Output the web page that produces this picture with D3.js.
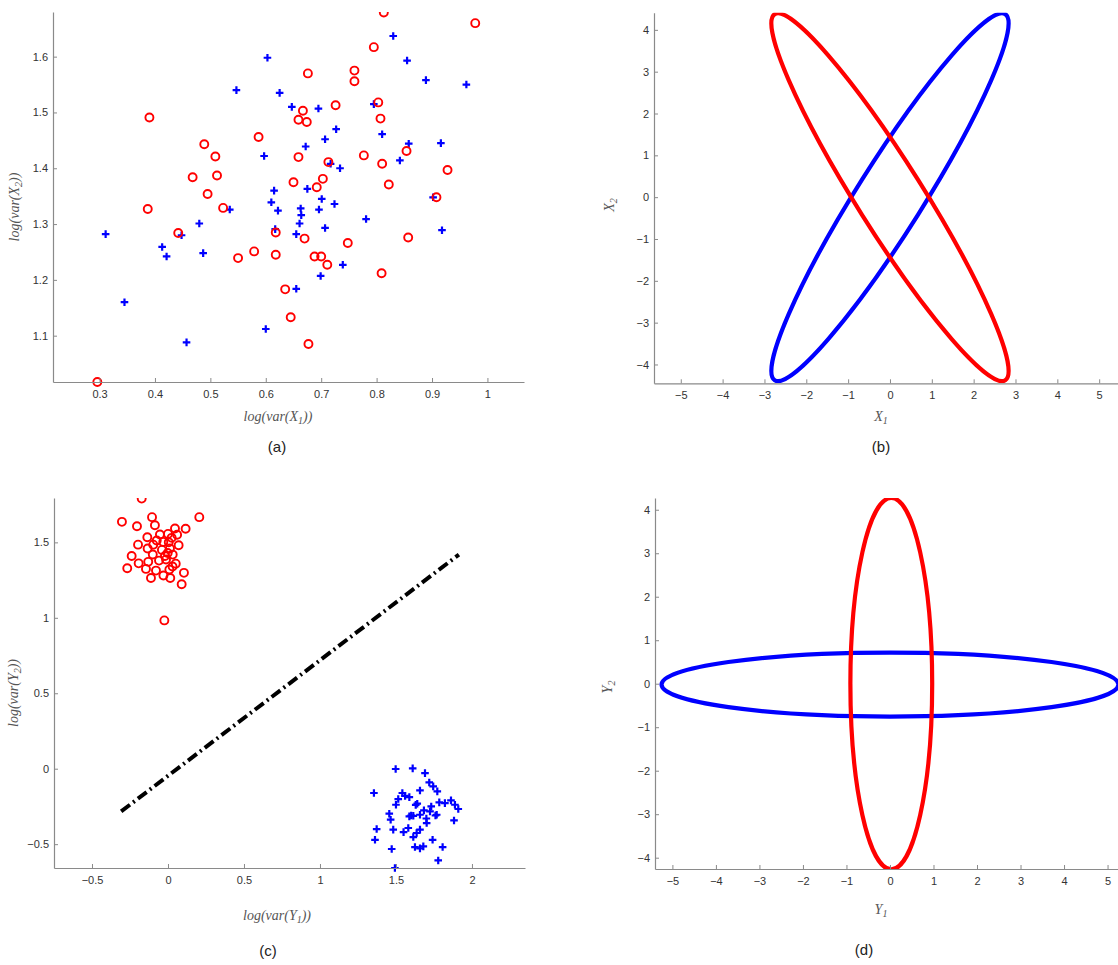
<!DOCTYPE html>
<html>
<head>
<meta charset="utf-8">
<script src="https://cdn.jsdelivr.net/npm/d3@7"></script>
<style>
  body { margin: 0; background: #fff; }
  svg { display: block; }
  .tick text { font-family: "Liberation Sans", Arial, sans-serif; font-size: 11px; fill: #333; }
</style>
</head>
<body>
<svg id="fig" width="1118" height="965"></svg>
<script>
// --- Data: panel (a) log-variances of X ---
const aRed = [[0.813,1.679],[0.978,1.660],[0.795,1.617],[0.676,1.570],[0.760,1.575],[0.760,1.556],[0.390,1.491],[0.667,1.503],[0.659,1.487],[0.674,1.483],[0.726,1.513],[0.803,1.518],[0.807,1.489],[0.587,1.456],[0.489,1.443],[0.509,1.421],[0.659,1.420],[0.468,1.384],[0.512,1.387],[0.777,1.423],[0.713,1.411],[0.810,1.408],[0.854,1.431],[0.928,1.397],[0.495,1.354],[0.650,1.375],[0.703,1.381],[0.692,1.366],[0.822,1.371],[0.387,1.327],[0.523,1.329],[0.908,1.348],[0.442,1.284],[0.618,1.285],[0.670,1.274],[0.857,1.276],[0.748,1.266],[0.550,1.239],[0.579,1.251],[0.618,1.245],[0.688,1.242],[0.700,1.242],[0.711,1.227],[0.809,1.212],[0.635,1.183],[0.645,1.133],[0.677,1.085],[0.296,1.017]];
const aBlue = [[0.830,1.637],[0.603,1.598],[0.855,1.593],[0.547,1.540],[0.625,1.535],[0.889,1.558],[0.962,1.550],[0.647,1.510],[0.695,1.507],[0.795,1.515],[0.727,1.470],[0.810,1.461],[0.707,1.452],[0.672,1.439],[0.858,1.444],[0.916,1.445],[0.597,1.422],[0.842,1.414],[0.734,1.400],[0.717,1.408],[0.615,1.360],[0.675,1.363],[0.610,1.339],[0.701,1.345],[0.622,1.324],[0.663,1.328],[0.664,1.316],[0.535,1.326],[0.696,1.326],[0.724,1.336],[0.480,1.301],[0.661,1.301],[0.781,1.309],[0.311,1.282],[0.617,1.291],[0.655,1.282],[0.707,1.293],[0.918,1.289],[0.448,1.280],[0.413,1.259],[0.421,1.242],[0.487,1.248],[0.739,1.227],[0.699,1.207],[0.345,1.160],[0.655,1.184],[0.600,1.112],[0.457,1.088],[0.902,1.348]];
const aXTicks = [0.3,0.4,0.5,0.6,0.7,0.8,0.9,1];
const aYTicks = [1.1,1.2,1.3,1.4,1.5,1.6];

// --- Data: panel (b) covariance ellipses in X space (semi-axes, angle in degrees) ---
const bEllipses = [
  { color: "#0000ff", cx: 0, cy: 0, a: 5.17, b: 0.79, angle: 57.8 },
  { color: "#ff0000", cx: 0, cy: 0, a: 5.17, b: 0.79, angle: 122.2 }
];
const bXTicks = [-5,-4,-3,-2,-1,0,1,2,3,4,5];
const bYTicks = [-4,-3,-2,-1,0,1,2,3,4];

// --- Data: panel (c) log-variances of Y ---
const cRed = [[-0.173,1.790],[-0.303,1.636],[-0.105,1.667],[0.206,1.667],[-0.204,1.607],[-0.086,1.613],[0.046,1.592],[0.116,1.590],[0.000,1.556],[-0.053,1.552],[-0.136,1.534],[0.024,1.530],[-0.074,1.512],[-0.097,1.485],[-0.197,1.485],[-0.031,1.503],[0.070,1.481],[-0.134,1.459],[0.013,1.459],[-0.239,1.410],[-0.002,1.430],[0.031,1.419],[-0.193,1.361],[-0.130,1.371],[-0.059,1.379],[-0.013,1.386],[0.051,1.359],[-0.268,1.328],[-0.145,1.324],[-0.079,1.313],[0.009,1.320],[0.105,1.298],[-0.112,1.264],[0.015,1.264],[0.090,1.222],[-0.024,0.983],[-0.040,1.450],[0.005,1.500],[-0.020,1.410],[0.030,1.340],[-0.100,1.420],[0.060,1.550],[-0.030,1.280]];
const cBlue = [[1.498,-0.002],[1.610,0.002],[1.691,-0.029],[1.719,-0.091],[1.745,-0.117],[1.772,-0.150],[1.658,-0.144],[1.355,-0.161],[1.542,-0.161],[1.588,-0.188],[1.515,-0.201],[1.500,-0.239],[1.640,-0.232],[1.785,-0.223],[1.822,-0.228],[1.862,-0.210],[1.888,-0.239],[1.910,-0.267],[1.732,-0.250],[1.684,-0.276],[1.724,-0.283],[1.768,-0.305],[1.456,-0.298],[1.588,-0.316],[1.614,-0.312],[1.658,-0.305],[1.465,-0.338],[1.882,-0.343],[1.702,-0.360],[1.373,-0.400],[1.482,-0.404],[1.581,-0.393],[1.658,-0.404],[1.636,-0.426],[1.614,-0.453],[1.362,-0.471],[1.741,-0.471],[1.807,-0.519],[1.625,-0.519],[1.658,-0.528],[1.680,-0.515],[1.472,-0.532],[1.778,-0.608],[1.493,-0.658],[1.600,-0.310],[1.700,-0.330],[1.560,-0.180],[1.630,-0.240],[1.760,-0.310],[1.550,-0.420]];
const cBoundary = [[-0.308,-0.283],[1.914,1.419]];
const cXTicks = [-0.5,0,0.5,1,1.5,2];
const cYTicks = [-0.5,0,0.5,1,1.5];

// --- Data: panel (d) ellipses in Y space ---
const dEllipses = [
  { color: "#0000ff", cx: 0, cy: -0.02, a: 5.25, b: 0.735, angle: 0 },
  { color: "#ff0000", cx: 0.03, cy: 0, a: 0.94, b: 4.27, angle: 0 }
];
const dXTicks = [-5,-4,-3,-2,-1,0,1,2,3,4,5];
const dYTicks = [-4,-3,-2,-1,0,1,2,3,4];

// --- Setup ---
const svg = d3.select("#fig");
const defs = svg.append("defs");
const fmt = d3.format("~g");
const axisColor = "#8a8a8a";
const labelFont = "'Liberation Serif', 'Times New Roman', serif";

function makePanel(id, p) {
  const x = d3.scaleLinear().domain(p.xd).range([p.left, p.right]);
  const y = d3.scaleLinear().domain(p.yd).range([p.bottom, p.top]);
  const g = svg.append("g").attr("class", "panel-" + id);

  // clip: exact box for curves, open below/sides for markers (top is cut)
  defs.append("clipPath").attr("id", "box-" + id).append("rect")
    .attr("x", p.left).attr("y", p.top)
    .attr("width", p.right - p.left).attr("height", p.bottom - p.top);
  defs.append("clipPath").attr("id", "top-" + id).append("rect")
    .attr("x", p.left - 15).attr("y", p.top)
    .attr("width", p.right - p.left + 30).attr("height", p.bottom - p.top + 15);

  return { x, y, g, p, id };
}

function drawAxes(P, xt, yt) {
  const { x, y, g, p } = P;
  const xAxis = d3.axisBottom(x).tickValues(xt).tickFormat(fmt)
    .tickSizeInner(-4).tickSizeOuter(0).tickPadding(8);
  const yAxis = d3.axisLeft(y).tickValues(yt).tickFormat(fmt)
    .tickSizeInner(-4).tickSizeOuter(0).tickPadding(5);
  const xg = g.append("g").attr("transform", `translate(0,${p.bottom})`).call(xAxis);
  const yg = g.append("g").attr("transform", `translate(${p.left},0)`).call(yAxis);
  [xg, yg].forEach(a => {
    a.select(".domain").attr("stroke", axisColor).attr("stroke-width", 1.2);
    a.selectAll(".tick line").attr("stroke", axisColor).attr("stroke-width", 1);
    a.attr("font-family", null).attr("font-size", null);
  });
}

function axisLabel(g, xp, yp, base, sub, tail, rotate) {
  const t = g.append("text")
    .attr("x", xp).attr("y", yp)
    .attr("text-anchor", "middle")
    .attr("font-family", labelFont)
    .attr("font-style", "italic")
    .attr("font-size", 14)
    .attr("fill", "#555");
  if (rotate) t.attr("transform", `rotate(-90,${xp},${yp})`);
  t.append("tspan").text(base);
  t.append("tspan").attr("font-size", 10).attr("dy", 3).text(sub);
  if (tail) t.append("tspan").attr("dy", -3).text(tail);
}

function caption(txt, xp, yp) {
  svg.append("text").attr("x", xp).attr("y", yp)
    .attr("text-anchor", "middle")
    .attr("font-family", "'Liberation Sans', Arial, sans-serif")
    .attr("font-size", 15).attr("fill", "#222")
    .text(txt);
}

function drawCircles(P, data) {
  P.g.append("g").attr("clip-path", `url(#top-${P.id})`)
    .selectAll("circle").data(data).join("circle")
    .attr("cx", d => P.x(d[0])).attr("cy", d => P.y(d[1]))
    .attr("r", 4).attr("fill", "none")
    .attr("stroke", "#ff0000").attr("stroke-width", 1.9);
}

function drawPluses(P, data) {
  P.g.append("g").attr("clip-path", `url(#top-${P.id})`)
    .selectAll("path").data(data).join("path")
    .attr("transform", d => `translate(${P.x(d[0])},${P.y(d[1])})`)
    .attr("d", "M-3.8,0H3.8M0,-3.8V3.8")
    .attr("stroke", "#0000ff").attr("stroke-width", 2.2);
}

function drawEllipses(P, data) {
  const kx = P.x(1) - P.x(0), ky = P.y(0) - P.y(1);
  P.g.append("g").attr("clip-path", `url(#box-${P.id})`)
    .selectAll("ellipse").data(data).join("ellipse")
    .attr("transform", d => `translate(${P.x(d.cx)},${P.y(d.cy)}) rotate(${-d.angle})`)
    .attr("rx", d => d.a * kx).attr("ry", d => d.b * ky)
    .attr("fill", "none").attr("stroke", d => d.color).attr("stroke-width", 4.2);
}

// --- Panel (a) ---
const A = makePanel("a", { left: 53, right: 524, top: 12, bottom: 382, xd: [0.216, 1.066], yd: [1.017, 1.68] });
drawPluses(A, aBlue);
drawCircles(A, aRed);
drawAxes(A, aXTicks, aYTicks);
axisLabel(A.g, 278, 421, "log(var(X", "1", "))", false);
axisLabel(A.g, 19, 207, "log(var(X", "2", "))", true);
caption("(a)", 277, 452);

// --- Panel (b) ---
const B = makePanel("b", { left: 654, right: 1118, top: 12.7, bottom: 383.3, xd: [-5.64, 5.45], yd: [-4.45, 4.41] });
drawEllipses(B, bEllipses);
drawAxes(B, bXTicks, bYTicks);
axisLabel(B.g, 881, 421, "X", "1", "", false);
axisLabel(B.g, 614, 205, "X", "2", "", true);
caption("(b)", 881, 452);

// --- Panel (c) ---
const C = makePanel("c", { left: 54, right: 525, top: 498, bottom: 868, xd: [-0.75, 2.349], yd: [-0.658, 1.794] });
C.g.append("path")
  .datum(cBoundary)
  .attr("d", d3.line().x(d => C.x(d[0])).y(d => C.y(d[1])))
  .attr("fill", "none").attr("stroke", "#000").attr("stroke-width", 4)
  .attr("stroke-dasharray", "11,4,2,4");
drawCircles(C, cRed);
drawPluses(C, cBlue);
drawAxes(C, cXTicks, cYTicks);
axisLabel(C.g, 277, 920, "log(var(Y", "1", "))", false);
axisLabel(C.g, 18, 693, "log(var(Y", "2", "))", true);
caption("(c)", 268, 956);

// --- Panel (d) ---
const D = makePanel("d", { left: 655, right: 1118, top: 498, bottom: 869, xd: [-5.40, 5.24], yd: [-4.26, 4.27] });
drawEllipses(D, dEllipses);
drawAxes(D, dXTicks, dYTicks);
axisLabel(D.g, 881, 914, "Y", "1", "", false);
axisLabel(D.g, 612, 687, "Y", "2", "", true);
caption("(d)", 864, 955);
</script>
</body>
</html>
